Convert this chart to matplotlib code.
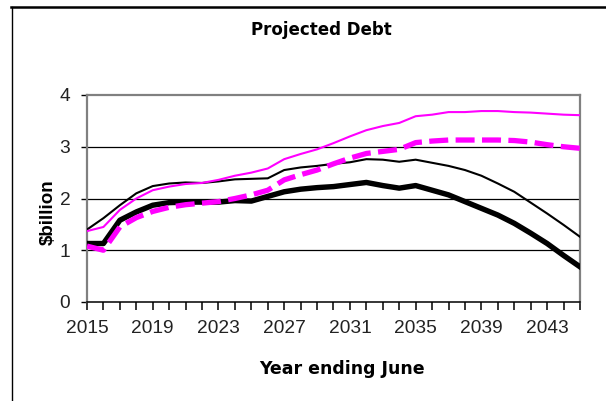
import matplotlib
matplotlib.use("Agg")
import matplotlib.pyplot as plt
from matplotlib.lines import Line2D

years = list(range(2015, 2046))
black_thick = [1.13, 1.13, 1.58, 1.74, 1.87, 1.92, 1.93, 1.93, 1.93, 1.96, 1.95,
               2.04, 2.13, 2.18, 2.21, 2.23, 2.27, 2.31, 2.25, 2.20, 2.25,
               2.16, 2.07, 1.94, 1.81, 1.68, 1.52, 1.33, 1.13, 0.90, 0.68]
black_thin = [1.40, 1.62, 1.87, 2.10, 2.24, 2.29, 2.31, 2.30, 2.33, 2.37, 2.38,
              2.39, 2.55, 2.60, 2.63, 2.67, 2.70, 2.76, 2.75, 2.71, 2.75,
              2.69, 2.63, 2.55, 2.44, 2.29, 2.13, 1.92, 1.71, 1.49, 1.26]
magenta_thin = [1.37, 1.45, 1.78, 2.00, 2.16, 2.23, 2.28, 2.30, 2.36, 2.44, 2.50,
                2.58, 2.76, 2.86, 2.95, 3.07, 3.20, 3.32, 3.40, 3.46, 3.59,
                3.62, 3.67, 3.67, 3.69, 3.69, 3.67, 3.66, 3.64, 3.62, 3.61]
magenta_dashed = [1.08, 1.00, 1.45, 1.63, 1.75, 1.83, 1.88, 1.91, 1.94, 2.00, 2.07,
                  2.16, 2.36, 2.46, 2.55, 2.67, 2.78, 2.87, 2.91, 2.95, 3.08,
                  3.11, 3.13, 3.13, 3.13, 3.13, 3.12, 3.09, 3.04, 3.00, 2.97]
x_tick_labels = [str(y) for y in range(2015, 2046, 4)]
y_ticks = [0, 1, 2, 3, 4]

W, H = 606, 401
fig = plt.figure(figsize=(W / 100, H / 100), dpi=100)
ax = fig.add_axes([87 / W, 1 - 302 / H, (580 - 87) / W, (302 - 95) / H])

for yv in [1, 2, 3]:
    ax.axhline(yv, color="black", lw=0.9, zorder=1)

ax.plot(years, black_thick, color="black", lw=3.9, zorder=3, solid_joinstyle="round")
ax.plot(years, black_thin, color="black", lw=1.5, zorder=4)
ax.plot(years, magenta_thin, color="#ff00ff", lw=1.5, zorder=5)
ax.plot(years, magenta_dashed, color="#ff00ff", lw=3.8, zorder=6,
        dashes=(3.6, 1.4), dash_capstyle="butt")

ax.set_xlim(2015, 2045)
ax.set_ylim(0, 4)
ax.set_xticks(years)
ax.set_xticklabels([str(y) if str(y) in x_tick_labels else "" for y in years],
                   fontfamily="Liberation Sans", fontsize=13.8, color="#222222")
ax.set_yticks(y_ticks)
ax.set_yticklabels([str(v) for v in y_ticks], fontfamily="Liberation Sans",
                   fontsize=13.8, color="#222222")
ax.tick_params(axis="x", direction="out", length=6, width=1.1, color="black", pad=7)
ax.tick_params(axis="y", direction="out", length=4, width=1.0, color="black", pad=8)

for side in ["left", "top", "right"]:
    ax.spines[side].set_color("#808080")
    ax.spines[side].set_linewidth(1.6)
ax.spines["bottom"].set_color("black")
ax.spines["bottom"].set_linewidth(1.1)

fig.text(321.5 / W, 1 - 30 / H, "Projected Debt", ha="center", va="center",
         fontsize=12, fontweight="bold", fontfamily="DejaVu Sans")
fig.text(342.5 / W, 1 - 369 / H, "Year ending June", ha="center", va="center",
         fontsize=12.5, fontweight="bold", fontfamily="DejaVu Sans")
fig.text(48 / W, 1 - 212 / H, "$billion", ha="center", va="center", rotation=90,
         fontsize=13.5, fontweight="bold", fontfamily="Liberation Sans")

# outer frame
fig.add_artist(Line2D([11.7 / W, 11.7 / W], [0, 1 - 6.7 / H], color="black",
                      lw=1.0, transform=fig.transFigure))
fig.add_artist(Line2D([11.2 / W, 1], [1 - 6.7 / H, 1 - 6.7 / H], color="black",
                      lw=1.8, transform=fig.transFigure))

fig.savefig("out.png", dpi=100)
